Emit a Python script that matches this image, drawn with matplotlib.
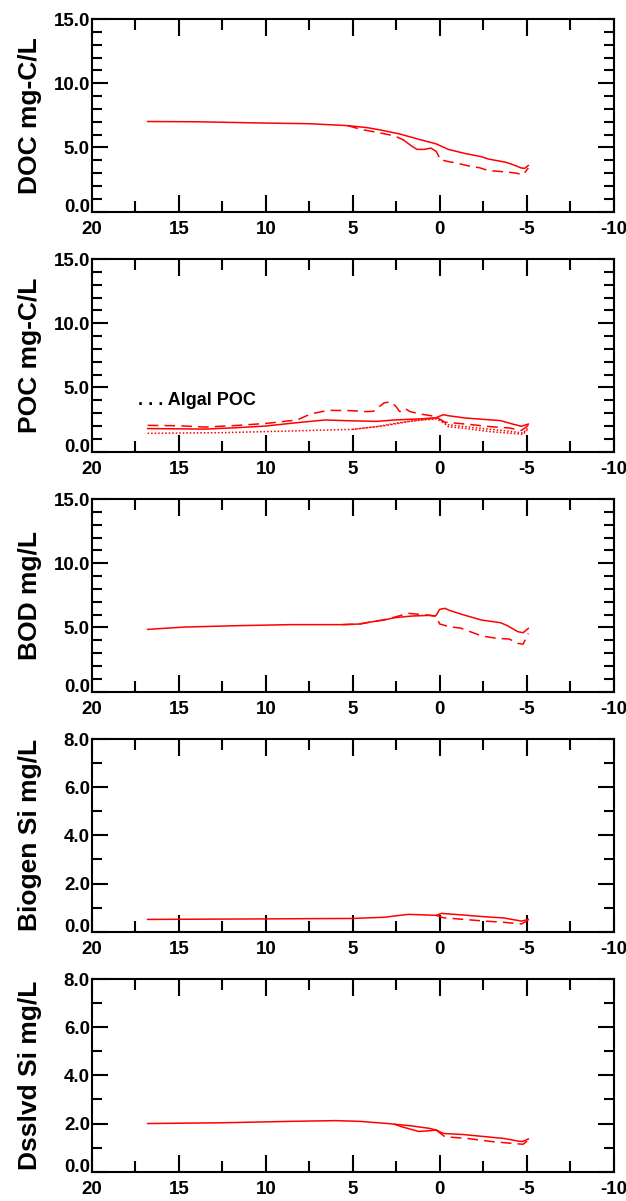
import matplotlib.pyplot as plt
import numpy as np

plt.rcParams['font.family'] = ['Liberation Sans', 'DejaVu Sans']
plt.rcParams['font.weight'] = 'bold'

# river mile (x) and concentrations
doc_x = [16.8, 14, 12, 10.1, 7.5, 5.3, 4.2, 3.4, 2.3, 1.1, 0.2, -0.5, -1.4, -2.4, -2.8, -3.8, -4.3, -4.7, -4.9, -5.1]
doc_y = [7.02, 7.0, 6.95, 6.9, 6.85, 6.7, 6.55, 6.36, 6.05, 5.6, 5.28, 4.85, 4.55, 4.28, 4.1, 3.85, 3.62, 3.4, 3.38, 3.6]
doc2_x = [5.3, 4.5, 3.9, 3.3, 2.6, 2.1, np.nan, -0.2, -0.5, -1.0, -1.7, -2.3, -2.8, -3.8, -4.4, -4.8, -5.1]
doc2_y = [6.7, 6.4, 6.25, 6.1, 5.9, 5.6, np.nan, 4.0, 3.9, 3.78, 3.55, 3.42, 3.2, 3.1, 3.0, 2.88, 3.4]
doc3_x = [2.1, 1.6, 1.3, 0.9, 0.5, 0.2, 0.05]
doc3_y = [5.6, 5.1, 4.85, 4.85, 4.95, 4.7, 4.3]

poc_x = [16.8, 15, 13.5, 11.5, 10, 8.2, 6.6, 5.0, 3.6, 2.6, 1.0, 0.2, -0.2, -0.5, -1.5, -2.5, -3.5, -4.2, -4.7, -5.1]
poc_y = [1.8, 1.78, 1.76, 1.88, 2.0, 2.26, 2.47, 2.4, 2.36, 2.47, 2.56, 2.65, 2.88, 2.8, 2.62, 2.52, 2.42, 2.15, 1.98, 2.15]
poc2_x = [16.8, 15, 13.5, 11.6, 10, 8.2, 7.4, 6.4, 5.0, 4.2, 3.8, 3.2, 2.8, 2.5, 2.3, 2.0, 1.7, 1.1, 0.4, 0.1, -0.3, -1.5, -2.9, -4.0, -4.7, -5.1]
poc2_y = [2.05, 2.02, 1.92, 2.05, 2.2, 2.47, 2.95, 3.22, 3.19, 3.12, 3.15, 3.8, 3.88, 3.5, 3.12, 3.37, 3.12, 2.93, 2.78, 2.62, 2.3, 2.15, 1.95, 1.85, 1.65, 2.05]
alg_x = [16.8, 12.6, 8.6, 5.0, 3.6, 2.6, 1.6, 0.2, -0.5, -1.5, -2.9, -4.0, -4.8, -5.1]
alg_y = [1.43, 1.48, 1.61, 1.74, 1.95, 2.2, 2.39, 2.55, 2.1, 1.95, 1.74, 1.6, 1.45, 1.9]
alg2_x = [5.0, 3.0, 2.0, 1.0, 0.1, -0.5, -1.5, -2.9, -4.0, -4.8, -5.1]
alg2_y = [1.74, 2.05, 2.3, 2.5, 2.6, 1.95, 1.8, 1.56, 1.45, 1.35, 1.8]

bod_x = [16.8, 14.7, 11.6, 8.6, 5.6, 4.6, 4.0, 3.2, 2.6, 1.6, 0.6, 0.3, 0.2, 0.0, -0.3, -0.6, -1.4, -2.4, -3.5, -3.9, -4.5, -4.8, -5.1]
bod_y = [4.85, 5.03, 5.14, 5.22, 5.22, 5.27, 5.42, 5.58, 5.76, 5.89, 5.94, 5.88, 5.95, 6.41, 6.49, 6.31, 5.97, 5.58, 5.37, 5.14, 4.67, 4.59, 4.93]
bod2_x = [5.6, 4.6, 4.0, 3.2, 2.6, 1.8, 1.0, 0.2, 0.0, -0.6, -1.2, -2.2, -2.6, -3.3, -4.0, -4.5, -4.8, -5.1]
bod2_y = [5.22, 5.27, 5.42, 5.6, 5.8, 6.1, 6.0, 5.9, 5.27, 5.05, 4.95, 4.45, 4.3, 4.15, 4.1, 3.76, 3.7, 4.54]

bsi_x = [16.8, 10.6, 5.0, 3.2, 1.8, 0.6, 0.2, -0.1, -1.4, -2.6, -3.7, -4.7, -5.1]
bsi_y = [0.51, 0.53, 0.55, 0.6, 0.72, 0.69, 0.68, 0.76, 0.69, 0.62, 0.57, 0.44, 0.51]
bsi2_x = [0.2, -0.2, -1.4, -2.6, -3.7, -4.7, -5.1]
bsi2_y = [0.68, 0.58, 0.51, 0.44, 0.39, 0.32, 0.48]

dsi_x = [16.8, 12.6, 8.6, 6.0, 4.6, 3.0, 1.6, 0.6, 0.2, -0.2, -1.4, -2.4, -3.7, -4.6, -4.8, -5.1]
dsi_y = [2.0, 2.03, 2.09, 2.12, 2.09, 2.0, 1.9, 1.8, 1.73, 1.59, 1.54, 1.47, 1.38, 1.26, 1.26, 1.36]
dsi2_x = [2.6, 2.2, 1.2, 0.6, 0.2]
dsi2_y = [1.97, 1.87, 1.67, 1.7, 1.73]
dsi3_x = [0.2, -0.3, -1.6, -3.0, -4.6, -4.8, -5.1]
dsi3_y = [1.73, 1.45, 1.38, 1.25, 1.15, 1.14, 1.31]

ylabels = ['DOC mg-C/L', 'POC mg-C/L', 'BOD mg/L', 'Biogen Si mg/L', 'Dsslvd Si mg/L']
ymaxes = [15, 15, 15, 8, 8]
xticks = [20, 15, 10, 5, 0, -5, -10]

SOLID = '-'
DASH = (0, (7, 4))
DOT = (0, (1, 1.3))
series = [
    [(doc_x, doc_y, SOLID), (doc2_x, doc2_y, DASH), (doc3_x, doc3_y, SOLID)],
    [(poc_x, poc_y, SOLID), (poc2_x, poc2_y, DASH), (alg_x, alg_y, DOT), (alg2_x, alg2_y, DOT)],
    [(bod_x, bod_y, SOLID), (bod2_x, bod2_y, DASH)],
    [(bsi_x, bsi_y, SOLID), (bsi2_x, bsi2_y, DASH)],
    [(dsi_x, dsi_y, SOLID), (dsi2_x, dsi2_y, SOLID), (dsi3_x, dsi3_y, DASH)],
]

W, H = 626, 1201
fig = plt.figure(figsize=(W / 100, H / 100), dpi=100)

for k in range(5):
    top = 19 + 240 * k
    bot = 211.7 + 240 * k
    ax = fig.add_axes([92 / W, (H - bot) / H, 521.5 / W, (bot - top) / H])
    for xs, ys, ls in series[k]:
        ax.plot(xs, ys, color='#ff0000', lw=1.1, linestyle=ls)
    ax.set_xlim(20, -10)
    ymax = ymaxes[k]
    ax.set_ylim(0, ymax)
    ax.set_xticks(xticks)
    ax.set_xticks(np.arange(17.5, -10, -5), minor=True)
    ax.set_xticklabels([str(t) for t in xticks])
    if ymax == 15:
        ax.set_yticks([0, 5, 10, 15])
        ax.set_yticks(np.arange(1, 15), minor=True)
    else:
        ax.set_yticks([0, 2, 4, 6, 8])
        ax.set_yticks([1, 3, 5, 7], minor=True)
    ax.set_yticklabels(['%.1f' % t for t in ax.get_yticks()])
    ax.tick_params(which='both', direction='in', top=True, right=True, width=1.5,
                   labelsize=13.5)
    ax.tick_params(axis='x', which='major', length=12, pad=7)
    ax.tick_params(axis='x', which='minor', length=8)
    ax.tick_params(axis='y', which='major', length=11.5, pad=1.5)
    ax.tick_params(axis='y', which='minor', length=7.5)
    for lab in ax.get_xticklabels() + ax.get_yticklabels():
        lab.set_fontweight('bold')
    ylabs = ax.get_yticklabels()
    ylabs[0].set_verticalalignment('baseline')
    ylabs[-1].set_verticalalignment('center_baseline')
    for sp in ax.spines.values():
        sp.set_linewidth(1.5)
    ax.text(-62 / 521.5, 0.5, ylabels[k], transform=ax.transAxes, rotation=90,
            ha='center', va='center', fontsize=19, fontweight='bold')
    if k == 1:
        ax.text(17.35, 4.0, '. . . Algal POC', ha='left', va='center',
                fontsize=13, fontweight='bold')

fig.savefig('out.png', dpi=100)
